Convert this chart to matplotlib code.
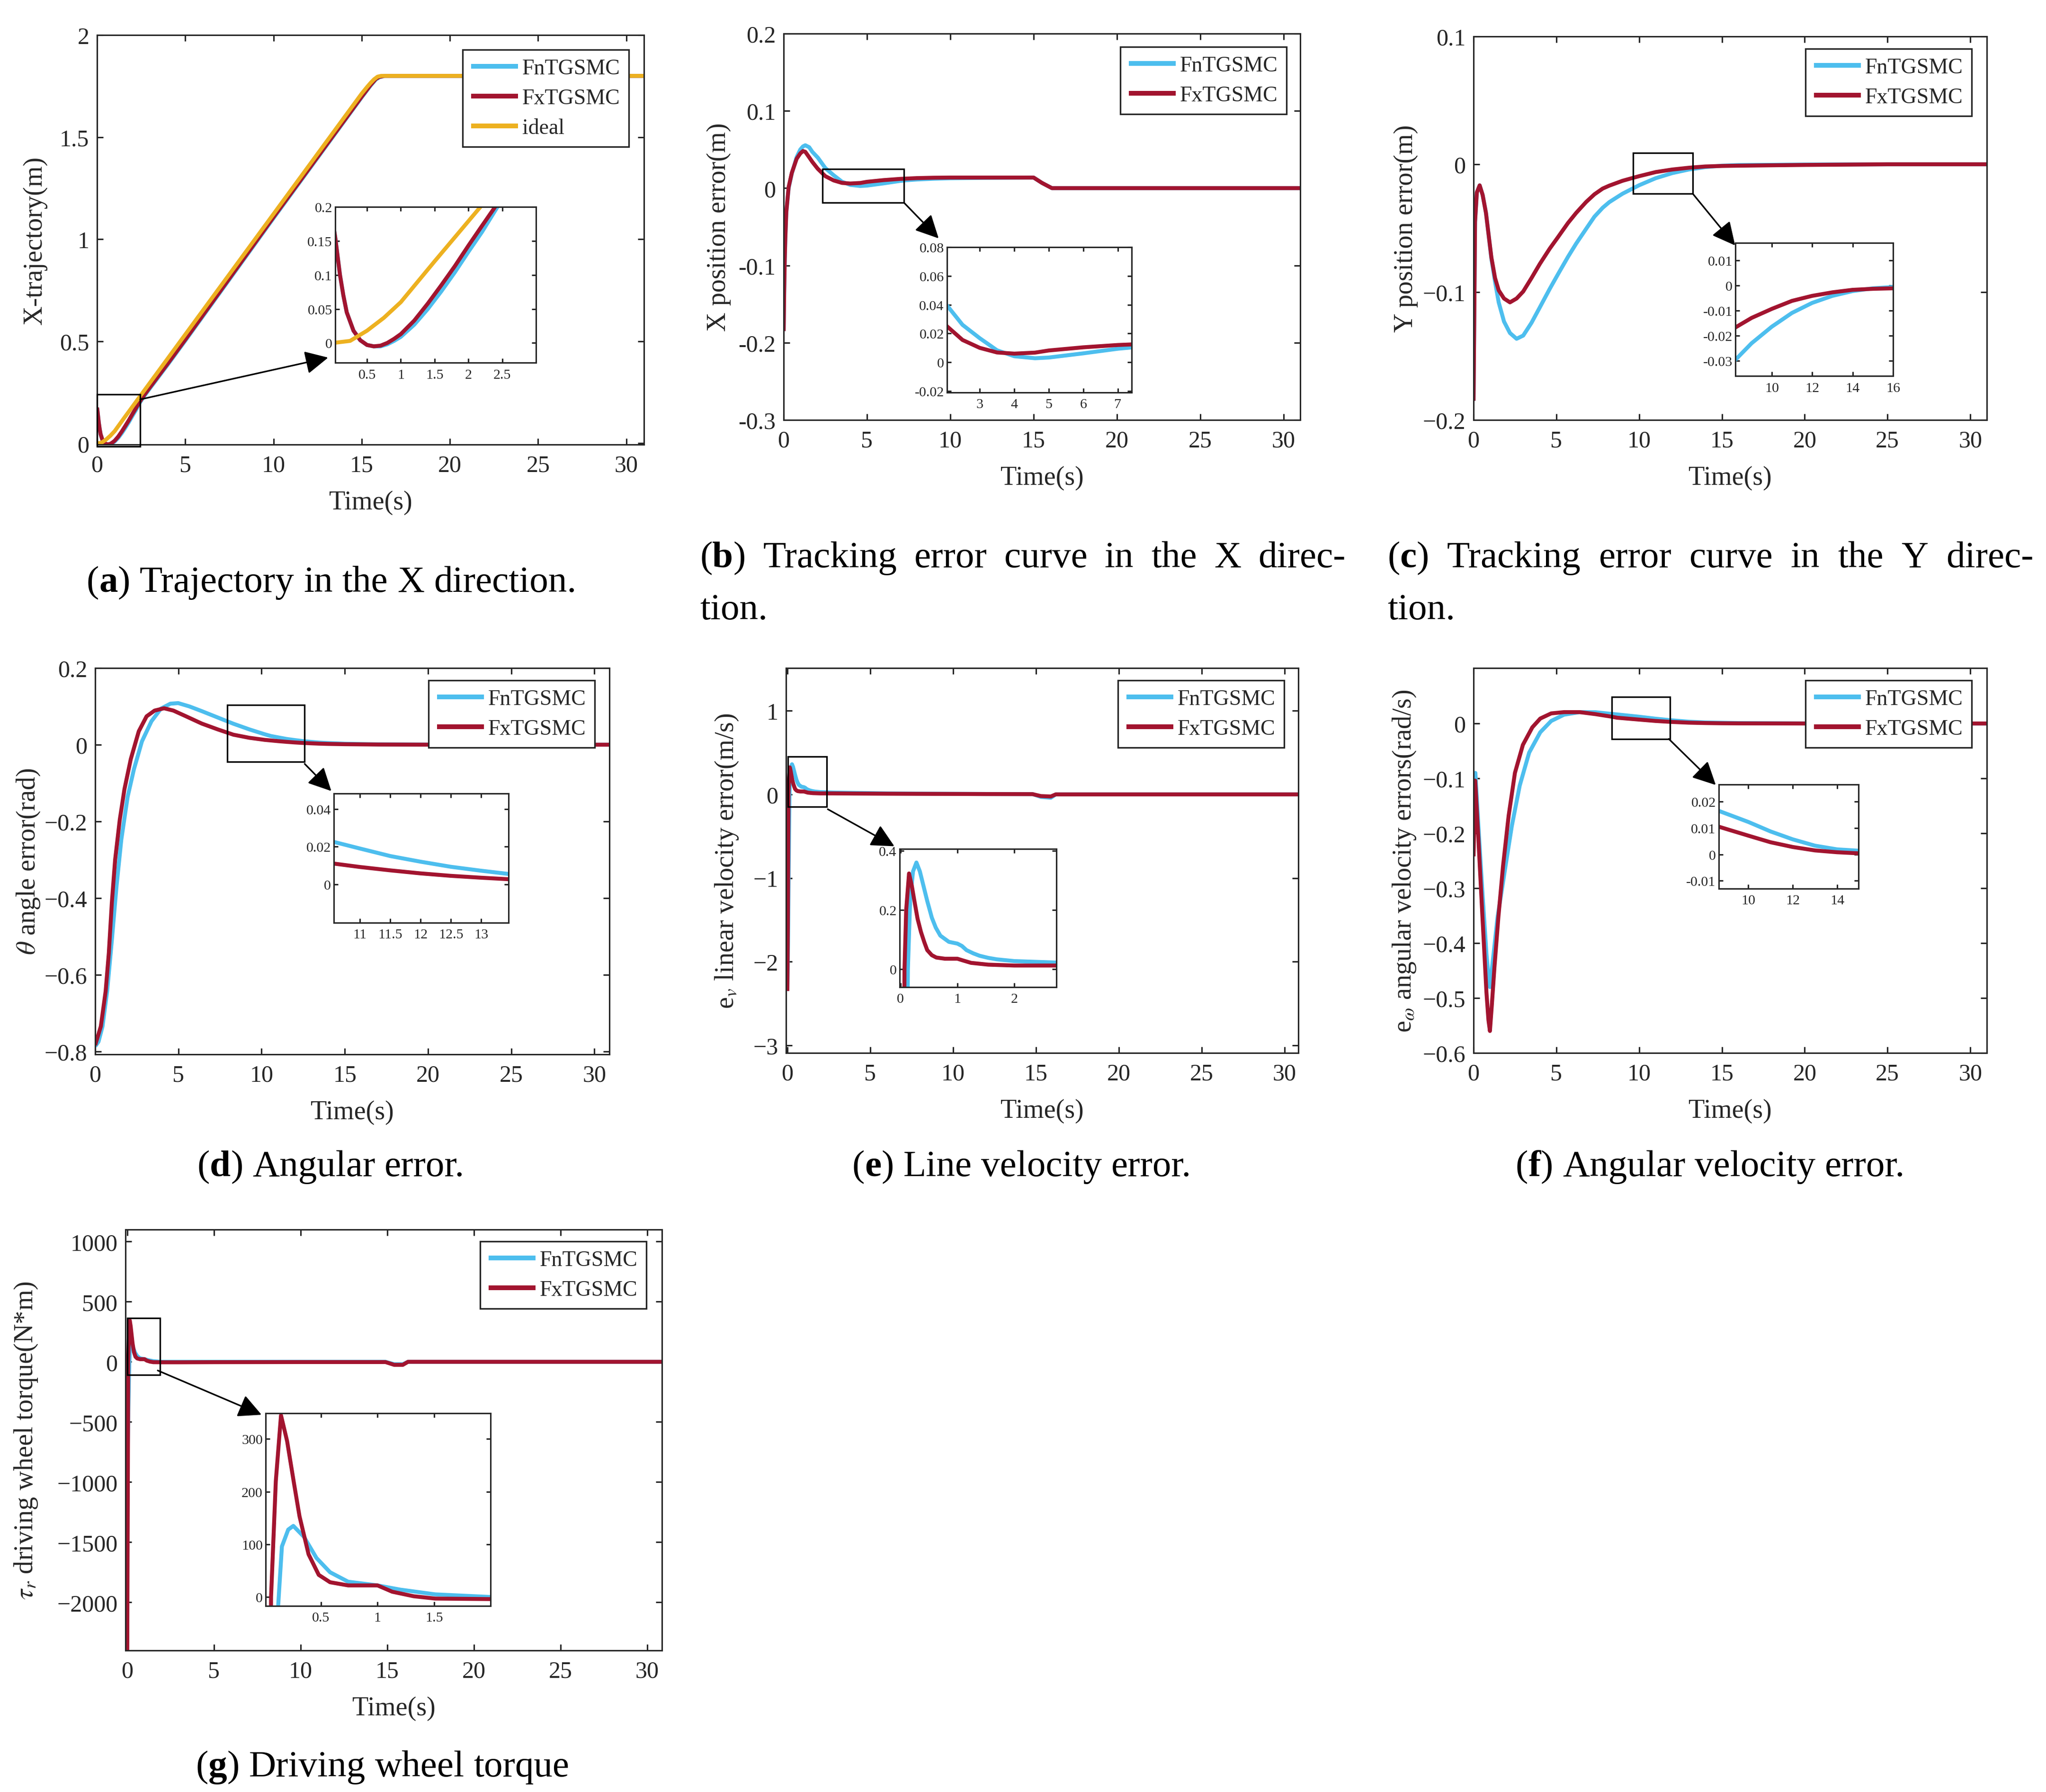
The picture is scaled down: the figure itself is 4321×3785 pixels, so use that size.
import matplotlib
matplotlib.use('Agg')
import matplotlib.pyplot as plt
from matplotlib.patches import Rectangle

plt.rcParams['font.family'] = ['Liberation Serif', 'DejaVu Serif']
plt.rcParams['mathtext.fontset'] = 'stix'

# ---------------------------------------------------------------- data
# (a) trajectory in X direction
a_t_ideal = [0, 0.25, 0.5, 0.75, 1.0, 1.5, 2.0, 2.5, 5, 10, 15, 15.3, 15.5, 15.7, 15.9, 16.1, 20, 25, 31]
a_ideal = [0, 0.003, 0.018, 0.037, 0.06, 0.12, 0.179, 0.238, 0.533, 1.123, 1.713, 1.745, 1.765, 1.783, 1.796, 1.8, 1.8, 1.8, 1.8]
a_t = [0, 0.03, 0.1, 0.15, 0.2, 0.3, 0.4, 0.5, 0.6, 0.7, 0.8, 0.9, 1.0, 1.2, 1.4, 1.6, 1.8, 2.0, 2.2, 2.43,
       2.7, 3, 4, 5, 10, 15, 15.5, 15.8, 16.0, 16.3, 20, 25, 31]
a_fn = [0.175, 0.155, 0.10, 0.07, 0.045, 0.018, 0.004, -0.003, -0.005, -0.005, -0.002, 0.003, 0.009, 0.027, 0.05,
        0.076, 0.104, 0.134, 0.163, 0.20, 0.235, 0.27, 0.385, 0.503, 1.103, 1.695, 1.752, 1.782, 1.793, 1.8, 1.8, 1.8, 1.8]
a_fx = [0.175, 0.155, 0.10, 0.07, 0.045, 0.018, 0.004, -0.003, -0.005, -0.004, 0.0, 0.006, 0.013, 0.033, 0.058,
        0.085, 0.113, 0.143, 0.172, 0.205, 0.24, 0.275, 0.39, 0.508, 1.108, 1.698, 1.755, 1.785, 1.795, 1.8, 1.8, 1.8, 1.8]

# (b) X position error
b_t = [0, 0.03, 0.066, 0.1, 0.16, 0.3, 0.49, 0.78, 1.0, 1.16, 1.3, 1.53, 1.72, 2.05, 2.5, 3.0, 3.5, 4.0, 4.6, 5.0,
       6.0, 7.0, 7.4, 8, 9, 10, 12, 15, 15.5, 16.1, 20, 25, 31]
b_fn = [-0.185, -0.135, -0.092, -0.065, -0.031, 0.0, 0.019, 0.040, 0.050, 0.054, 0.0555, 0.053, 0.047, 0.0395,
        0.026, 0.0167, 0.0083, 0.0042, 0.0028, 0.0033, 0.0062, 0.0094, 0.0103, 0.0112, 0.0122, 0.0128, 0.0133,
        0.0137, 0.0068, 0, 0, 0, 0]
b_fx = [-0.185, -0.135, -0.092, -0.065, -0.031, 0.0014, 0.0198, 0.038, 0.045, 0.048, 0.047, 0.040, 0.034, 0.025,
        0.0155, 0.010, 0.0068, 0.006, 0.0067, 0.0082, 0.0104, 0.012, 0.0124, 0.013, 0.0135, 0.0137, 0.0137,
        0.0137, 0.0068, 0, 0, 0, 0]

# (c) Y position error
c_t = [0, 0.05, 0.09, 0.2, 0.37, 0.55, 0.75, 0.9, 1.08, 1.3, 1.52, 1.84, 2.2, 2.6, 3.0, 3.5, 4.0, 4.6, 5.1, 5.7,
       6.2, 6.8, 7.3, 7.8, 8.2, 9, 10, 11, 12, 13, 14, 15, 16, 20, 25, 31]
c_fn = [-0.185, -0.11, -0.045, -0.022, -0.0165, -0.024, -0.038, -0.054, -0.074, -0.092, -0.108, -0.123, -0.132,
        -0.1365, -0.134, -0.124, -0.112, -0.0975, -0.086, -0.0725, -0.062, -0.0505, -0.041, -0.034, -0.0296,
        -0.023, -0.0164, -0.0109, -0.0069, -0.0041, -0.0022, -0.0011, -0.0006, -0.0002, 0, 0]
c_fx = [-0.185, -0.11, -0.045, -0.022, -0.0165, -0.024, -0.038, -0.054, -0.073, -0.089, -0.0986, -0.105, -0.108,
        -0.105, -0.0995, -0.089, -0.078, -0.066, -0.057, -0.046, -0.038, -0.0295, -0.0235, -0.019, -0.0167,
        -0.0129, -0.0093, -0.0061, -0.0041, -0.0027, -0.0017, -0.0013, -0.0011, -0.0005, 0, 0]

# (d) angle error
d_t_fn = [0, 0.2, 0.44, 0.72, 1.0, 1.29, 1.57, 1.95, 2.33, 2.81, 3.38, 3.95, 4.52, 4.99, 5.65, 6.41, 7.36, 8.31,
          9.26, 10.2, 10.57, 11, 11.5, 12, 12.5, 13, 13.45, 14, 15, 17, 20, 25, 31]
d_fn = [-0.787, -0.775, -0.735, -0.643, -0.511, -0.366, -0.248, -0.136, -0.064, 0.0086, 0.061, 0.094, 0.107, 0.1085,
        0.10, 0.0875, 0.071, 0.0546, 0.040, 0.027, 0.0225, 0.019, 0.015, 0.012, 0.0093, 0.0072, 0.0055, 0.0042,
        0.0025, 0.0009, 0.0002, 0, 0]
d_t_fx = [0, 0.34, 0.63, 0.82, 1.0, 1.2, 1.48, 1.76, 2.14, 2.62, 3.09, 3.57, 4.14, 4.7, 5.46, 6.41, 7.36, 8.31,
          9.26, 10.2, 10.57, 11, 11.5, 12, 12.5, 13, 13.45, 14, 15, 17, 20, 25, 31]
d_fx = [-0.784, -0.735, -0.643, -0.544, -0.413, -0.30, -0.195, -0.116, -0.0375, 0.035, 0.074, 0.089, 0.095, 0.089,
        0.074, 0.055, 0.040, 0.026, 0.018, 0.0125, 0.011, 0.0092, 0.0074, 0.0058, 0.0045, 0.0035, 0.0027, 0.002,
        0.0012, 0.0004, 0.0001, 0, 0]

# (e) linear velocity error
e_t_fn = [0, 0.04, 0.08, 0.13, 0.17, 0.22, 0.28, 0.34, 0.40, 0.47, 0.55, 0.62, 0.70, 0.85, 1.0, 1.08, 1.16, 1.28,
          1.39, 1.54, 1.69, 2.0, 2.74, 4, 6, 9, 12, 14.8, 15.3, 15.9, 16.2, 20, 25, 31]
e_fn = [-2.35, -1.8, -0.9, 0.0, 0.237, 0.33, 0.36, 0.33, 0.284, 0.23, 0.174, 0.14, 0.113, 0.092, 0.086, 0.078,
        0.064, 0.053, 0.045, 0.038, 0.033, 0.027, 0.022, 0.018, 0.012, 0.008, 0.005, 0.004, -0.03, -0.04, 0.0,
        0.0, 0.0, 0.0]
e_t_fx = [0, 0.03, 0.05, 0.07, 0.1, 0.15, 0.2, 0.24, 0.3, 0.36, 0.42, 0.47, 0.55, 0.63, 0.78, 0.9, 1.0, 1.1, 1.24,
          1.54, 2.0, 2.74, 4, 6, 9, 12, 14.8, 15.3, 15.9, 16.2, 20, 25, 31]
e_fx = [-2.35, -1.6, -0.8, 0.0, 0.2, 0.323, 0.28, 0.235, 0.17, 0.125, 0.09, 0.064, 0.047, 0.039, 0.035, 0.035,
        0.035, 0.029, 0.021, 0.015, 0.012, 0.012, 0.010, 0.008, 0.006, 0.004, 0.003, -0.02, -0.025, 0.0, 0.0,
        0.0, 0.0]

# (f) angular velocity error
f_t_fn = [0, 0.11, 0.3, 0.54, 0.78, 0.9, 0.99, 1.1, 1.45, 1.93, 2.31, 2.79, 3.36, 4.03, 4.69, 5.46, 6.41, 7.37,
          8.32, 8.67, 10, 11, 12, 13, 14, 14.96, 16, 20, 25, 31]
f_fn = [-0.19, -0.09, -0.19, -0.31, -0.42, -0.46, -0.48, -0.45, -0.353, -0.26, -0.187, -0.113, -0.053, -0.016,
        0.0046, 0.016, 0.0207, 0.0205, 0.0175, 0.0165, 0.0123, 0.0087, 0.0057, 0.0033, 0.0019, 0.0014, 0.0008,
        0.0002, 0, 0]
f_t_fx = [0, 0.1, 0.3, 0.54, 0.78, 0.9, 0.99, 1.1, 1.26, 1.5, 1.78, 2.12, 2.5, 2.98, 3.55, 4.03, 4.69, 5.46, 6.41,
          7.37, 8.32, 8.67, 10, 11, 12, 13, 14, 14.96, 16, 20, 25, 31]
f_fx = [-0.242, -0.104, -0.214, -0.353, -0.49, -0.54, -0.56, -0.515, -0.445, -0.353, -0.26, -0.168, -0.09, -0.039,
        -0.007, 0.009, 0.0184, 0.0207, 0.0207, 0.017, 0.0125, 0.0105, 0.0071, 0.0046, 0.0028, 0.0015, 0.0008,
        0.0004, 0.0002, 0, 0, 0]

# (g) driving wheel torque
g_t_fn = [0, 0.05, 0.1, 0.12, 0.154, 0.21, 0.255, 0.35, 0.46, 0.58, 0.74, 1.0, 1.2, 1.51, 2.0, 3, 5, 10, 14.9,
          15.4, 15.9, 16.2, 20, 25, 31]
g_fn = [-1000, -520, -120, -20, 96, 128, 135, 114, 74, 47, 29, 22, 14, 5, 0, 0, 0, 0, 0, -20, -20, 0, 0, 0, 0]
g_t_fx = [0, 0.02, 0.04, 0.058, 0.1, 0.146, 0.2, 0.26, 0.31, 0.39, 0.48, 0.58, 0.74, 0.9, 1.0, 1.13, 1.32, 1.51,
          2.0, 3, 5, 10, 14.9, 15.4, 15.9, 16.2, 20, 25, 31]
g_fx = [-2500, -1600, -800, 0, 220, 345, 296, 217, 153, 81, 42, 28, 22, 22, 22, 10, 1.4, -3, -4, -4, -3, -2, -2,
        -25, -25, 0, 0, 0, 0]

series_names = ['FnTGSMC', 'FxTGSMC', 'ideal']
x_ticks = [0, 5, 10, 15, 20, 25, 30]
x_tick_labels = ['0', '5', '10', '15', '20', '25', '30']

captions = {
    'a': '(a) Trajectory in the X direction.',
    'b': ['(b) Tracking error curve in the X direc-', 'tion.'],
    'c': ['(c) Tracking error curve in the Y direc-', 'tion.'],
    'd': '(d) Angular error.',
    'e': '(e) Line velocity error.',
    'f': '(f) Angular velocity error.',
    'g': '(g) Driving wheel torque',
}

# ---------------------------------------------------------------- figure
W, H = 4321, 3786
DPI = 300
fig = plt.figure(figsize=(W / DPI, H / DPI), dpi=DPI)
fig.patch.set_facecolor('white')

BLUE = '#4DBEEE'
RED = '#A2142F'
ORANGE = '#EDB120'
AXC = '#262626'
LW = 2.0


def fbox(b):
    x0, x1, y0, y1 = b
    return [x0 / W, 1 - y1 / H, (x1 - x0) / W, (y1 - y0) / H]


def style(ax, size, length, padx, pady):
    ax.minorticks_off()
    ax.tick_params(which='both', direction='in', top=True, right=True, length=length, width=0.75,
                   color=AXC, labelcolor=AXC, labelsize=size)
    ax.tick_params(axis='x', pad=padx)
    ax.tick_params(axis='y', pad=pady)
    for s in ax.spines.values():
        s.set_linewidth(0.75)
        s.set_color(AXC)


panels = [
    dict(key='a', box=(205, 1360, 75, 940), xlim=(0, 31), ylim=(-0.006, 2),
         yt=[0, 0.5, 1, 1.5, 2], ytl=['0', '0.5', '1', '1.5', '2'],
         ylabel='X-trajectory(m)', ylx=-0.114,
         series=[(a_t, a_fn, BLUE), (a_t, a_fx, RED), (a_t_ideal, a_ideal, ORANGE)],
         leg=(1328, 106),
         ibox=(708, 1132, 438, 767), ixlim=(0.03, 3.0), iylim=(-0.029, 0.2),
         ixt=[0.5, 1, 1.5, 2, 2.5], ixtl=['0.5', '1', '1.5', '2', '2.5'],
         iyt=[0, 0.05, 0.1, 0.15, 0.2], iytl=['0', '0.05', '0.1', '0.15', '0.2'],
         rect=(0, 2.44, -0.015, 0.24), arrow=((2.44, 0.215), (13.1, 0.42))),
    dict(key='b', box=(1655, 2746, 72, 888), xlim=(0, 31), ylim=(-0.3, 0.2),
         yt=[-0.3, -0.2, -0.1, 0, 0.1, 0.2], ytl=['-0.3', '-0.2', '-0.1', '0', '0.1', '0.2'],
         ylabel='X position error(m)', ylx=-0.126,
         series=[(b_t, b_fn, BLUE), (b_t, b_fx, RED)],
         leg=(2717, 100),
         ibox=(2000, 2390, 523, 830), ixlim=(2.05, 7.4), iylim=(-0.021, 0.08),
         ixt=[3, 4, 5, 6, 7], ixtl=['3', '4', '5', '6', '7'],
         iyt=[-0.02, 0, 0.02, 0.04, 0.06, 0.08], iytl=['-0.02', '0', '0.02', '0.04', '0.06', '0.08'],
         rect=(2.32, 7.23, -0.019, 0.0245), arrow=((7.23, -0.019), (9.3, -0.065))),
    dict(key='c', box=(3112, 4196, 78, 888), xlim=(0, 31), ylim=(-0.2, 0.1),
         yt=[-0.2, -0.1, 0, 0.1], ytl=['\u22120.2', '\u22120.1', '0', '0.1'],
         ylabel='Y position error(m)', ylx=-0.132,
         series=[(c_t, c_fn, BLUE), (c_t, c_fx, RED)],
         leg=(4164, 104),
         ibox=(3665, 3998, 514, 795), ixlim=(8.2, 16.0), iylim=(-0.036, 0.017),
         ixt=[10, 12, 14, 16], ixtl=['10', '12', '14', '16'],
         iyt=[-0.03, -0.02, -0.01, 0, 0.01], iytl=['-0.03', '-0.02', '-0.01', '0', '0.01'],
         rect=(9.63, 13.24, -0.023, 0.0089), arrow=((13.24, -0.023), (15.8, -0.0635))),
    dict(key='d', box=(201, 1287, 1412, 2228), xlim=(0, 30.9), ylim=(-0.808, 0.2),
         yt=[-0.8, -0.6, -0.4, -0.2, 0, 0.2],
         ytl=['\u22120.8', '\u22120.6', '\u22120.4', '\u22120.2', '0', '0.2'],
         ylabel=r'$\theta$ angle error(rad)', ylx=-0.130,
         series=[(d_t_fn, d_fn, BLUE), (d_t_fx, d_fx, RED)],
         leg=(1256, 1438),
         ibox=(705, 1074, 1677, 1950), ixlim=(10.57, 13.45), iylim=(-0.0204, 0.0482),
         ixt=[11, 11.5, 12, 12.5, 13], ixtl=['11', '11.5', '12', '12.5', '13'],
         iyt=[0, 0.02, 0.04], iytl=['0', '0.02', '0.04'],
         rect=(7.95, 12.59, -0.044, 0.104), arrow=((12.59, -0.05), (14.19, -0.121))),
    dict(key='e', box=(1660, 2742, 1412, 2225), xlim=(-0.08, 30.84), ylim=(-3.09, 1.51),
         yt=[-3, -2, -1, 0, 1], ytl=['\u22123', '\u22122', '\u22121', '0', '1'],
         ylabel=r'e$_{v}$ linear velocity error(m/s)', ylx=-0.115,
         series=[(e_t_fn, e_fn, BLUE), (e_t_fx, e_fx, RED)],
         leg=(2712, 1438),
         ibox=(1900, 2231, 1794, 2086), ixlim=(-0.015, 2.74), iylim=(-0.061, 0.406),
         ixt=[0, 1, 2], ixtl=['0', '1', '2'],
         iyt=[0, 0.2, 0.4], iytl=['0', '0.2', '0.4'],
         rect=(0.03, 2.39, -0.147, 0.45), arrow=((2.44, -0.177), (6.46, -0.62))),
    dict(key='f', box=(3112, 4196, 1412, 2225), xlim=(0, 31), ylim=(-0.6, 0.101),
         yt=[-0.6, -0.5, -0.4, -0.3, -0.2, -0.1, 0],
         ytl=['\u22120.6', '\u22120.5', '\u22120.4', '\u22120.3', '\u22120.2', '\u22120.1', '0'],
         ylabel=r'e$_{\omega}$ angular velocity errors(rad/s)', ylx=-0.134,
         series=[(f_t_fn, f_fn, BLUE), (f_t_fx, f_fx, RED)],
         leg=(4164, 1438),
         ibox=(3630, 3925, 1658, 1878), ixlim=(8.67, 14.96), iylim=(-0.013, 0.0265),
         ixt=[10, 12, 14], ixtl=['10', '12', '14'],
         iyt=[-0.01, 0, 0.01, 0.02], iytl=['-0.01', '0', '0.01', '0.02'],
         rect=(8.34, 11.87, -0.028, 0.048), arrow=((11.79, -0.028), (14.63, -0.112))),
    dict(key='g', box=(265, 1398, 2598, 3487), xlim=(-0.1, 30.85), ylim=(-2400, 1100),
         yt=[-2000, -1500, -1000, -500, 0, 500, 1000],
         ytl=['\u22122000', '\u22121500', '\u22121000', '\u2212500', '0', '500', '1000'],
         ylabel=r'$\tau_{r}$ driving wheel torque(N*m)', ylx=-0.185,
         series=[(g_t_fn, g_fn, BLUE), (g_t_fx, g_fx, RED)],
         leg=(1365, 2623),
         ibox=(561, 1036, 2986, 3393), ixlim=(0.01, 2.0), iylim=(-17, 349),
         ixt=[0.5, 1, 1.5], ixtl=['0.5', '1', '1.5'],
         iyt=[0, 100, 200, 300], iytl=['0', '100', '200', '300'],
         rect=(0, 1.89, -109, 365), arrow=((1.76, -72), (7.75, -440))),
]

for p in panels:
    ax = fig.add_axes(fbox(p['box']))
    handles = []
    for (t, v, c), name in zip(p['series'], series_names):
        ln, = ax.plot(t, v, color=c, lw=LW, solid_joinstyle='round', solid_capstyle='butt', label=name)
        handles.append(ln)
    ax.set_xlim(*p['xlim'])
    ax.set_ylim(*p['ylim'])
    ax.set_xticks(x_ticks)
    ax.set_xticklabels(x_tick_labels)
    ax.set_yticks(p['yt'])
    ax.set_yticklabels(p['ytl'])
    style(ax, 12, 3.2, 5, 4)
    hpx = p['box'][3] - p['box'][2]
    ax.set_xlabel('Time(s)', fontsize=13.5, color=AXC, va='center')
    ax.xaxis.set_label_coords(0.5, -122 / hpx)
    ax.set_ylabel(p['ylabel'], fontsize=13.5, color=AXC, va='center')
    ax.yaxis.set_label_coords(p['ylx'], 0.5)

    lx, ly = p['leg']
    leg = ax.legend(handles=handles, loc='upper right', bbox_to_anchor=(lx / W, 1 - ly / H),
                    bbox_transform=fig.transFigure, borderaxespad=0, fancybox=False, framealpha=1,
                    edgecolor=AXC, fontsize=11, handlelength=2.15, handletextpad=0.2,
                    borderpad=0.4, labelspacing=0.45)
    leg.get_frame().set_linewidth(0.8)
    for t in leg.get_texts():
        t.set_color(AXC)
    for l in leg.get_lines():
        l.set_linewidth(2.4)

    x0, x1, y0, y1 = p['rect']
    ax.add_patch(Rectangle((x0, y0), x1 - x0, y1 - y0, fill=False, ec='black', lw=0.8,
                           zorder=6, clip_on=False))
    (sx, sy), (ex, ey) = p['arrow']
    ax.annotate('', xy=(ex, ey), xytext=(sx, sy),
                arrowprops=dict(arrowstyle='-|>', color='black', lw=0.8, mutation_scale=25,
                                shrinkA=0, shrinkB=0), annotation_clip=False)

    ia = fig.add_axes(fbox(p['ibox']))
    for t, v, c in p['series']:
        ia.plot(t, v, color=c, lw=LW, solid_joinstyle='round')
    ia.set_xlim(*p['ixlim'])
    ia.set_ylim(*p['iylim'])
    ia.set_xticks(p['ixt'])
    ia.set_xticklabels(p['ixtl'])
    ia.set_yticks(p['iyt'])
    ia.set_yticklabels(p['iytl'])
    style(ia, 7.2, 2.2, 3, 1.5)

# ---------------------------------------------------------------- captions
renderer = fig.canvas.get_renderer()
CAP = 19


def measure(s, bold):
    t = fig.text(0, 0, s, fontsize=CAP, fontweight='bold' if bold else 'normal')
    w = t.get_window_extent(renderer).width
    t.remove()
    return w


def split_word(word):
    if len(word) == 3 and word[0] == '(' and word[2] == ')':
        return [('(', False), (word[1], True), (')', False)]
    return [(word, False)]


SPACE = measure('a a', False) - measure('aa', False)


def draw_line(text, y_px, center=None, left=None, right=None):
    words = [split_word(w) for w in text.split(' ')]
    widths = [[measure(s, b) for s, b in w] for w in words]
    wsum = [sum(ws) for ws in widths]
    if left is not None and right is not None and len(words) > 1:
        gap = (right - left - sum(wsum)) / (len(words) - 1)
        x = left
    else:
        gap = SPACE
        total = sum(wsum) + SPACE * (len(words) - 1)
        x = left if left is not None else center - total / 2
    for w, ws in zip(words, widths):
        for (s, b), wi in zip(w, ws):
            fig.text(x / W, 1 - y_px / H, s, fontsize=CAP, fontweight='bold' if b else 'normal',
                     ha='left', va='baseline', color='black')
            x += wi
        x += gap


draw_line(captions['a'], 1250, center=700)
draw_line(captions['b'][0], 1198, left=1478, right=2842)
draw_line(captions['b'][1], 1308, left=1478)
draw_line(captions['c'][0], 1198, left=2930, right=4295)
draw_line(captions['c'][1], 1308, left=2930)
draw_line(captions['d'], 2484, center=699)
draw_line(captions['e'], 2484, center=2158)
draw_line(captions['f'], 2484, center=3612)
draw_line(captions['g'], 3752, center=808)

fig.savefig('out.png', dpi=DPI, facecolor='white')
